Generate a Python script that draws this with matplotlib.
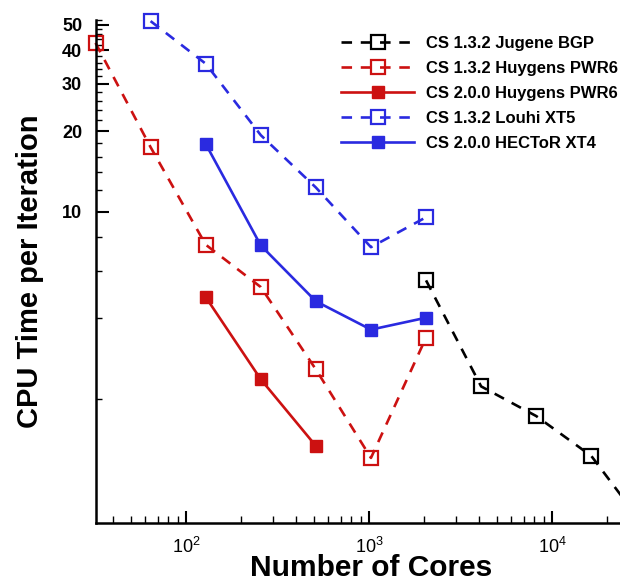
import numpy as np
import matplotlib
matplotlib.use("Agg")
import matplotlib.pyplot as plt
from matplotlib.ticker import FixedLocator, FixedFormatter, NullFormatter, LogLocator

plt.rcParams['font.family'] = ['Liberation Sans', 'DejaVu Sans']
plt.rcParams['mathtext.fontset'] = 'custom'
plt.rcParams['mathtext.rm'] = 'Liberation Sans'

# datos
cores_jugene = [2048, 4096, 8192, 16384, 32768]
t_jugene = [5.53, 2.22, 1.72, 1.22, 0.65]

cores_huy132 = [32, 64, 128, 256, 512, 1024, 2048]
t_huy132 = [42.7, 17.4, 7.52, 5.22, 2.57, 1.2, 3.38]

cores_huy200 = [128, 256, 512]
t_huy200 = [4.79, 2.36, 1.33]

cores_louhi = [64, 128, 256, 512, 1024, 2048]
t_louhi = [51.5, 35.7, 19.3, 12.3, 7.36, 9.52]

cores_hector = [128, 256, 512, 1024, 2048]
t_hector = [17.9, 7.47, 4.62, 3.62, 4.01]

labels = ["CS 1.3.2 Jugene BGP", "CS 1.3.2 Huygens PWR6", "CS 2.0.0 Huygens PWR6",
          "CS 1.3.2 Louhi XT5", "CS 2.0.0 HECToR XT4"]

RED = "#cc1111"
BLUE = "#2a2ae0"

fig = plt.figure(figsize=(6.2, 5.79), dpi=100)
ax = fig.add_axes([96/620, 1 - 522.7/579, (620 - 96)/620, (522.7 - 20)/579])

dash = (0, (4, 3.3))
lw = 1.9
open_kw = dict(marker='s', markersize=10.5, markerfacecolor='none', markeredgewidth=1.6, clip_on=False)
fill_kw = dict(marker='s', markersize=8.5, clip_on=False)

ax.plot(cores_jugene, t_jugene, color='black', linestyle=dash, lw=lw, label=labels[0], **open_kw)
ax.plot(cores_huy132, t_huy132, color=RED, linestyle=dash, lw=lw, label=labels[1], **open_kw)
ax.plot(cores_huy200, t_huy200, color=RED, linestyle='-', lw=lw, label=labels[2], **fill_kw)
ax.plot(cores_louhi, t_louhi, color=BLUE, linestyle=dash, lw=lw, label=labels[3], **open_kw)
ax.plot(cores_hector, t_hector, color=BLUE, linestyle='-', lw=lw, label=labels[4], **fill_kw)

ax.set_xscale('log')
ax.set_yscale('log')
ax.set_xlim(32.2, 23500)
ax.set_ylim(0.687, 52)

# ejes estilo tecplot
ax.spines['top'].set_visible(False)
ax.spines['right'].set_visible(False)
ax.spines['left'].set_linewidth(1.8)
ax.spines['bottom'].set_linewidth(1.8)

ax.yaxis.set_major_locator(FixedLocator([10, 20, 30, 40, 50]))
ax.yaxis.set_major_formatter(FixedFormatter(["10", "20", "30", "40", "50"]))
ax.yaxis.set_minor_locator(FixedLocator([v for v in range(2, 53, 2) if v % 10 != 0]))
ax.yaxis.set_minor_formatter(NullFormatter())

ax.xaxis.set_major_locator(LogLocator(base=10, numticks=10))
ax.xaxis.set_minor_locator(LogLocator(base=10, subs=np.arange(2, 10), numticks=10))
ax.xaxis.set_minor_formatter(NullFormatter())

ax.tick_params(axis='both', which='major', direction='in', width=1.5, length=9)
ax.tick_params(axis='both', which='minor', direction='in', width=1.0, length=4)
ax.tick_params(axis='x', which='minor', length=5)
ax.tick_params(axis='y', which='major', labelsize=13, pad=10)
ax.tick_params(axis='x', which='major', labelsize=13, pad=10)
for t in ax.get_yticklabels():
    t.set_fontweight('bold')

ax.set_xlabel("Number of Cores", fontsize=21.5, fontweight='bold')
ax.xaxis.set_label_coords(0.525, -0.062)
ax.set_ylabel("CPU Time per Iteration", fontsize=21, fontweight='bold', labelpad=13)

leg = ax.legend(loc='upper left', bbox_to_anchor=(341/620, 1 - 36/579),
                bbox_transform=fig.transFigure, frameon=False,
                prop={'size': 12, 'weight': 'bold'}, handlelength=4.4,
                handletextpad=0.7, labelspacing=0.6, borderaxespad=0, borderpad=0)

fig.savefig("out.png", dpi=100)
